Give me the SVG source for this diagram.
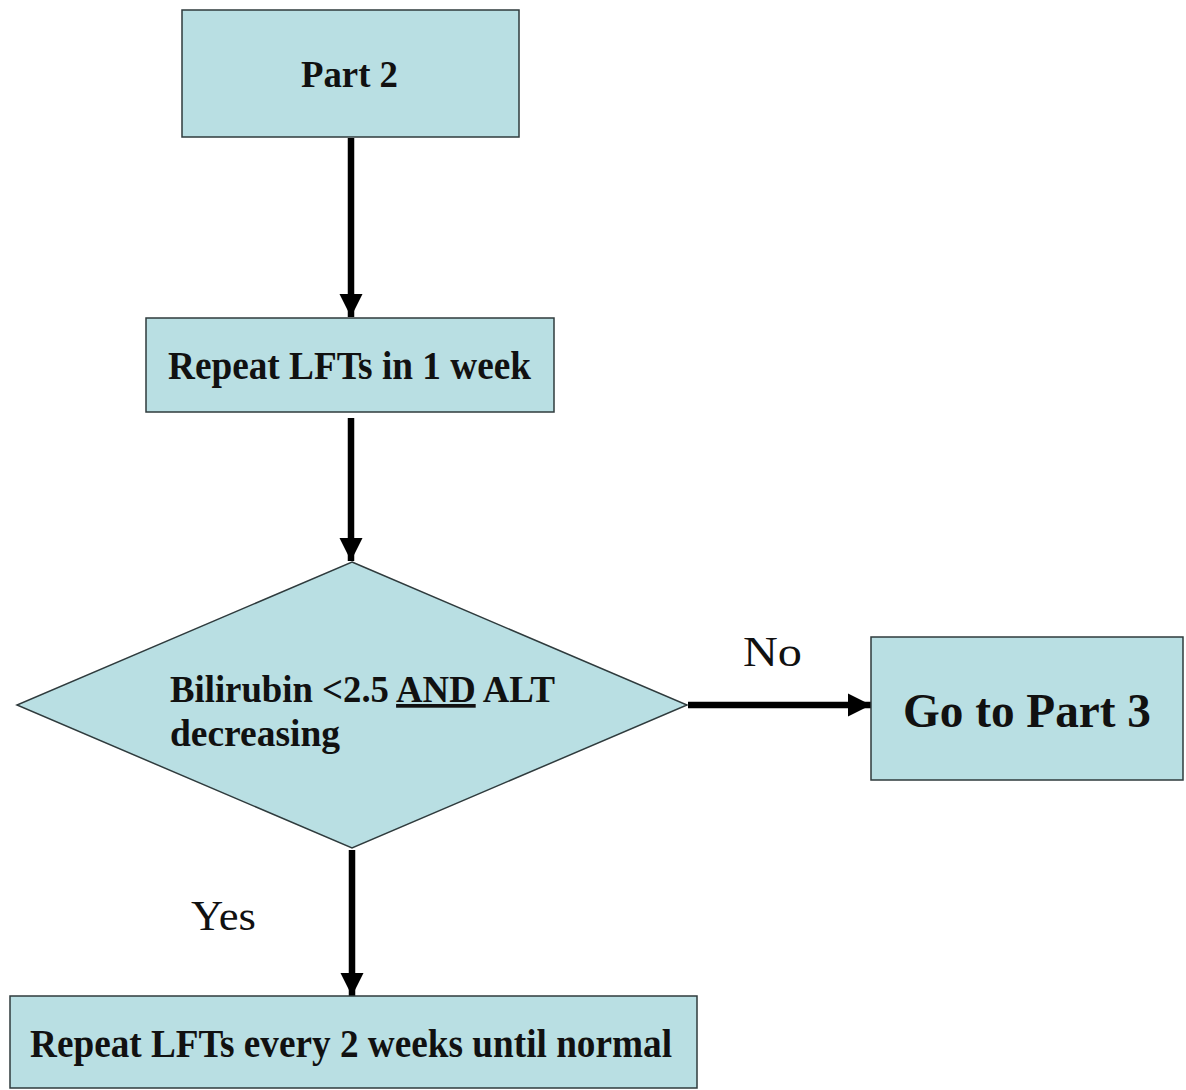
<svg xmlns="http://www.w3.org/2000/svg" width="1186" height="1090" viewBox="0 0 1186 1090">
<style>
.box{fill:#b9dfe3;stroke:#2f3b3d;stroke-width:1.5}
.t{font-family:"Liberation Serif","Times New Roman",serif;font-weight:bold;fill:#111}
.lbl{font-family:"Liberation Serif","Times New Roman",serif;fill:#111}
.c{fill:none;stroke:#000;stroke-width:6.5}
</style>
<defs>
<marker id="ah" viewBox="0 0 10 10" refX="10" refY="5" markerWidth="3.6" markerHeight="3.7" orient="auto" markerUnits="strokeWidth">
<path d="M0,0 L10,5 L0,10 z" fill="#000"/>
</marker>
</defs>
<rect width="1186" height="1090" fill="#fff"/>
<g id="connectors">
<line class="c" x1="351" y1="138" x2="351" y2="317" marker-end="url(#ah)"/>
<line class="c" x1="351" y1="418" x2="351" y2="561" marker-end="url(#ah)"/>
<line class="c" x1="688" y1="705" x2="871" y2="705" marker-end="url(#ah)"/>
<line class="c" x1="352" y1="850" x2="352" y2="996" marker-end="url(#ah)"/>
<text class="lbl" x="743" y="666" font-size="42" textLength="59" lengthAdjust="spacingAndGlyphs">No</text>
<text class="lbl" x="191" y="930" font-size="42" textLength="65" lengthAdjust="spacingAndGlyphs">Yes</text>
</g>
<g id="node-part2">
<rect class="box" x="182" y="10" width="337" height="127"/>
<text class="t" x="301" y="87" font-size="38" textLength="97" lengthAdjust="spacingAndGlyphs">Part 2</text>
</g>
<g id="node-repeat1">
<rect class="box" x="146" y="318" width="408" height="94"/>
<text class="t" x="168" y="379" font-size="40" textLength="363" lengthAdjust="spacingAndGlyphs">Repeat LFTs in 1 week</text>
</g>
<g id="node-decision">
<polygon class="box" points="352,562 687,705 352,848 17,705"/>
<text class="t" x="170" y="702" font-size="37" textLength="385" lengthAdjust="spacingAndGlyphs">Bilirubin  &lt;2.5 <tspan text-decoration="underline">AND</tspan> ALT</text>
<text class="t" x="170" y="746" font-size="37" textLength="170" lengthAdjust="spacingAndGlyphs">decreasing</text>
</g>
<g id="node-part3">
<rect class="box" x="871" y="637" width="312" height="143"/>
<text class="t" x="903" y="727" font-size="48" textLength="248" lengthAdjust="spacingAndGlyphs">Go to Part 3</text>
</g>
<g id="node-repeat2">
<rect class="box" x="10" y="996" width="687" height="92"/>
<text class="t" x="30" y="1057" font-size="40" textLength="642" lengthAdjust="spacingAndGlyphs">Repeat LFTs every 2 weeks until normal</text>
</g>
</svg>
